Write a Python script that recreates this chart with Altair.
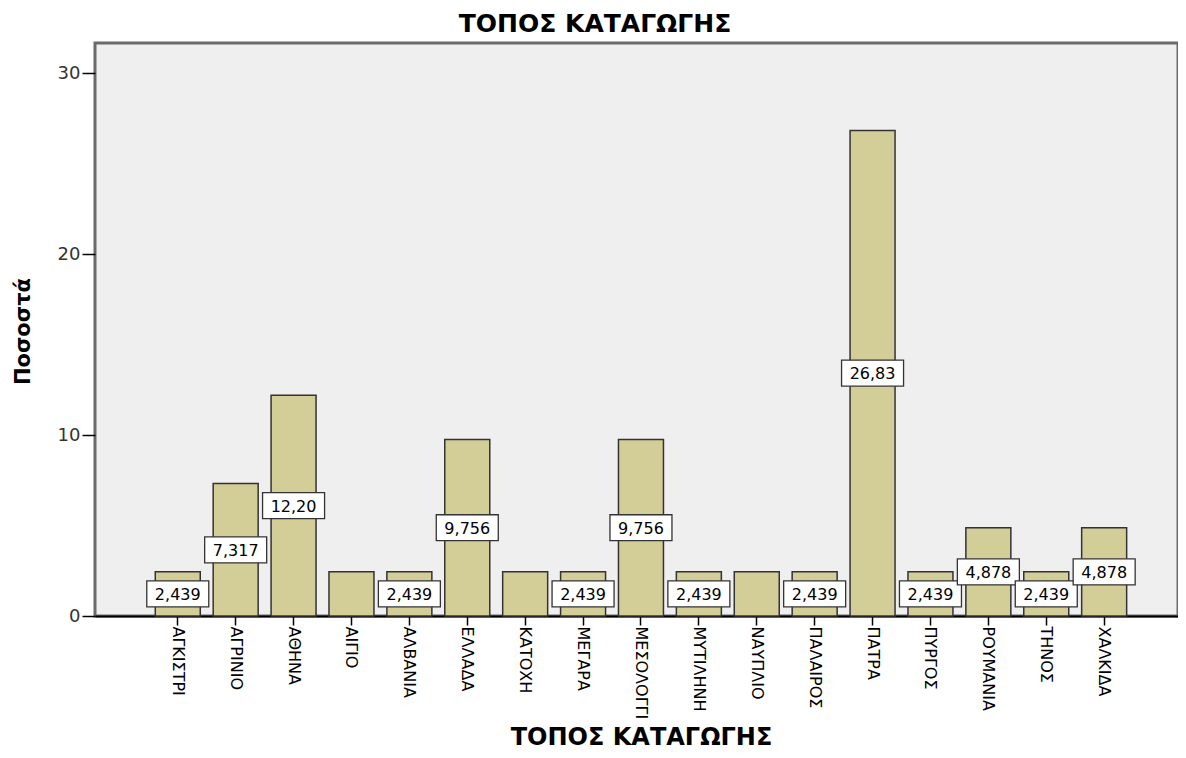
import altair as alt
import pandas as pd

categories = ["ΑΓΚΙΣΤΡΙ", "ΑΓΡΙΝΙΟ", "ΑΘΗΝΑ", "ΑΙΓΙΟ", "ΑΛΒΑΝΙΑ", "ΕΛΛΑΔΑ",
              "ΚΑΤΟΧΗ", "ΜΕΓΑΡΑ", "ΜΕΣΟΛΟΓΓΙ", "ΜΥΤΙΛΗΝΗ", "ΝΑΥΠΛΙΟ",
              "ΠΑΛΑΙΡΟΣ", "ΠΑΤΡΑ", "ΠΥΡΓΟΣ", "ΡΟΥΜΑΝΙΑ", "ΤΗΝΟΣ", "ΧΑΛΚΙΔΑ"]
percents = [2.439, 7.317, 12.20, 2.439, 2.439, 9.756,
            2.439, 2.439, 9.756, 2.439, 2.439,
            2.439, 26.83, 2.439, 4.878, 2.439, 4.878]
value_labels = ["2,439", "7,317", "12,20", "", "2,439", "9,756",
                "", "2,439", "9,756", "2,439", "",
                "2,439", "26,83", "2,439", "4,878", "2,439", "4,878"]
y_ticks = [0, 10, 20, 30]
y_domain = [0, 31.66]

df = pd.DataFrame({"place": categories, "pct": percents, "label": value_labels})

FONT = "DejaVu Sans"

x_scale = alt.Scale(paddingInner=0.223, paddingOuter=0.964, align=0.54)
y_scale = alt.Scale(domain=y_domain, nice=False, zero=True)

x_axis = alt.Axis(
    title="ΤΟΠΟΣ ΚΑΤΑΓΩΓΗΣ", labelAngle=90, labelFont=FONT, labelFontSize=16,
    labelColor="#000", labelPadding=1, labelOverlap=False, tickSize=9,
    tickColor="#000", tickWidth=1.5, domainColor="#000", domainWidth=2,
    titleFont=FONT, titleFontSize=24, titleFontWeight="bold", titleColor="#000",
    titleX=546, titleY=128, titleBaseline="alphabetic", titleAlign="center",
    grid=False)
y_axis = alt.Axis(
    title="Ποσοστά", values=y_ticks, format="d", labelFont=FONT, labelFontSize=18,
    labelColor="#333", labelPadding=2, tickSize=13, tickColor="#000",
    tickWidth=1.5, domain=False, grid=False, titleFont=FONT, titleFontSize=21,
    titleFontWeight="bold", titleColor="#000", titleAngle=270, titleX=-72,
    titleY=288, titleAlign="center", titleBaseline="middle")

bars = alt.Chart(df).mark_bar(fill="#d3ce97", stroke="#333", strokeWidth=1.5).encode(
    x=alt.X("place:N", sort=categories, scale=x_scale, axis=x_axis),
    y=alt.Y("pct:Q", scale=y_scale, axis=y_axis),
)

labelled = alt.Chart(df).transform_filter("datum.label != ''").transform_calculate(
    mid="datum.pct / 2")

BOX = "M-1,-0.419 L1,-0.419 L1,0.419 L-1,0.419 Z"
boxes = labelled.mark_point(shape=BOX, size=3844, filled=True, fill="white",
                            stroke="#333", strokeWidth=1.3, opacity=1).encode(
    x=alt.X("place:N", sort=categories, scale=x_scale, axis=x_axis),
    y=alt.Y("mid:Q", scale=y_scale, axis=y_axis),
)
texts = labelled.mark_text(font=FONT, fontSize=16, color="#000", baseline="middle",
                           align="center", dy=1).encode(
    x=alt.X("place:N", sort=categories, scale=x_scale, axis=x_axis),
    y=alt.Y("mid:Q", scale=y_scale, axis=y_axis),
    text="label:N",
)

chart = alt.layer(bars, boxes, texts).properties(
    width=1083, height=573,
    padding={"left": 87, "top": 35, "right": 0, "bottom": 134},
    autosize=alt.AutoSizeParams(type="none"),
    background="white",
    title=alt.TitleParams("ΤΟΠΟΣ ΚΑΤΑΓΩΓΗΣ", font=FONT, fontSize=25,
                          fontWeight="bold", color="#000", anchor="middle",
                          frame="bounds", offset=6),
).configure_view(fill="#efefef", stroke="#6b6b6b", strokeWidth=3)

chart.save("out.html", embed_options={"renderer": "svg", "actions": False})
